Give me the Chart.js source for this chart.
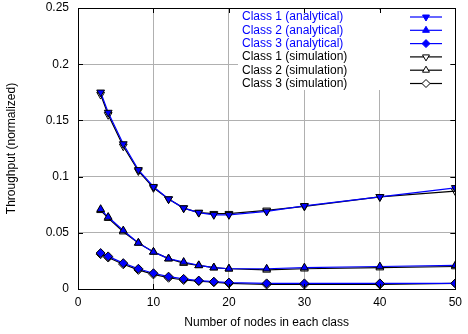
<!DOCTYPE html>
<html>
<head>
<meta charset="utf-8">
<script src="https://cdn.jsdelivr.net/npm/chart.js@4.4.1/dist/chart.umd.min.js"></script>
<style>
  html, body { margin: 0; padding: 0; background: #fff; }
  #wrap { width: 468px; height: 334px; position: relative; }
</style>
</head>
<body>
<div id="wrap"><canvas id="chart" width="468" height="334"></canvas></div>
<script>
// Throughput per class vs. number of nodes (analytical vs simulation)
const nodes = [3, 4, 6, 8, 10, 12, 14, 16, 18, 20, 25, 30, 40, 50];

const class1Analytical = [0.175, 0.157, 0.129, 0.106, 0.091, 0.080, 0.072, 0.068, 0.066, 0.066, 0.069, 0.074, 0.082, 0.090];
const class2Analytical = [0.071, 0.064, 0.052, 0.041, 0.033, 0.027, 0.024, 0.021, 0.019, 0.018, 0.018, 0.019, 0.020, 0.021];
const class3Analytical = [0.032, 0.029, 0.023, 0.018, 0.014, 0.011, 0.009, 0.0075, 0.0065, 0.0057, 0.005, 0.005, 0.005, 0.005];

const class1Simulation = [0.173, 0.155, 0.127, 0.105, 0.090, 0.080, 0.072, 0.068, 0.067, 0.067, 0.070, 0.0735, 0.082, 0.087];
const class2Simulation = [0.070, 0.063, 0.051, 0.041, 0.033, 0.027, 0.023, 0.021, 0.019, 0.018, 0.017, 0.018, 0.019, 0.020];
const class3Simulation = [0.031, 0.028, 0.022, 0.017, 0.013, 0.010, 0.008, 0.007, 0.006, 0.005, 0.004, 0.004, 0.004, 0.005];

const xTicks = [0, 10, 20, 30, 40, 50];
const yTicks = [0, 0.05, 0.1, 0.15, 0.2, 0.25];

const FONT = '"Liberation Sans", Arial, Helvetica, sans-serif';
const BLUE = '#0000ff';

function toPoints(values) {
    return nodes.map((n, i) => ({ x: n, y: values[i] }));
}

// series definitions (legend order)
const series = [
    { label: 'Class 1 (analytical)', data: class1Analytical, color: BLUE, fill: BLUE, style: 'triangle', rotation: 180 },
    { label: 'Class 2 (analytical)', data: class2Analytical, color: BLUE, fill: BLUE, style: 'triangle', rotation: 0 },
    { label: 'Class 3 (analytical)', data: class3Analytical, color: BLUE, fill: BLUE, style: 'rectRot', rotation: 0 },
    { label: 'Class 1 (simulation)', data: class1Simulation, color: '#000', fill: 'rgba(255,255,255,0)', style: 'triangle', rotation: 180 },
    { label: 'Class 2 (simulation)', data: class2Simulation, color: '#000', fill: 'rgba(255,255,255,0)', style: 'triangle', rotation: 0 },
    { label: 'Class 3 (simulation)', data: class3Simulation, color: '#000', fill: 'rgba(255,255,255,0)', style: 'rectRot', rotation: 0 }
];

const datasets = series.map(s => ({
    label: s.label,
    data: toPoints(s.data),
    showLine: true,
    borderColor: s.color,
    borderWidth: 1.2,
    pointStyle: s.style,
    rotation: s.rotation,
    pointRadius: 4.5,
    pointBackgroundColor: s.fill,
    pointBorderColor: '#000',
    pointBorderWidth: 1,
    tension: 0
}));

// white box behind the key, drawn over the grid before the data
const keyBoxPlugin = {
    id: 'keyBox',
    beforeDatasetsDraw(chart) {
        const ctx = chart.ctx;
        ctx.save();
        ctx.fillStyle = '#ffffff';
        ctx.fillRect(238, 10, 218, 80);
        ctx.restore();
    }
};

// frame, inner ticks and the gnuplot-style key
const framePlugin = {
    id: 'frame',
    afterDraw(chart) {
        const ctx = chart.ctx;
        const a = chart.chartArea;
        const xs = chart.scales.x, ys = chart.scales.y;
        ctx.save();

        ctx.strokeStyle = '#000';
        ctx.lineWidth = 1;
        ctx.beginPath();
        xTicks.forEach(v => {
            const px = Math.round(xs.getPixelForValue(v)) + 0.5;
            ctx.moveTo(px, a.bottom); ctx.lineTo(px, a.bottom - 5);
            ctx.moveTo(px, a.top); ctx.lineTo(px, a.top + 5);
        });
        yTicks.forEach(v => {
            const py = Math.round(ys.getPixelForValue(v)) + 0.5;
            ctx.moveTo(a.left, py); ctx.lineTo(a.left + 5, py);
            ctx.moveTo(a.right, py); ctx.lineTo(a.right - 5, py);
        });
        ctx.stroke();
        ctx.strokeRect(Math.round(a.left) + 0.5, Math.round(a.top) + 0.5,
            Math.round(a.right - a.left), Math.round(a.bottom - a.top));

        // key entries
        ctx.font = '12px ' + FONT;
        ctx.textBaseline = 'middle';
        ctx.textAlign = 'left';
        series.forEach((s, i) => {
            const y = 17 + i * 13.3;
            ctx.fillStyle = s.color;
            ctx.fillText(s.label, 242, y);
            ctx.strokeStyle = s.color;
            ctx.lineWidth = 1.2;
            ctx.beginPath();
            ctx.moveTo(410, y); ctx.lineTo(442, y);
            ctx.stroke();
            ctx.fillStyle = s.color === BLUE ? BLUE : '#fff';
            ctx.strokeStyle = s.color === BLUE ? BLUE : '#000';
            ctx.lineWidth = 1;
            Chart.helpers.drawPoint(ctx, { pointStyle: s.style, rotation: s.rotation, radius: 4, borderWidth: 1 }, 426, y);
        });
        ctx.restore();
    }
};

new Chart(document.getElementById('chart'), {
    type: 'scatter',
    data: { datasets },
    options: {
        responsive: false,
        animation: false,
        layout: { padding: { top: 0, right: 9, left: 0, bottom: 0 } },
        plugins: {
            legend: { display: false },
            tooltip: { enabled: false }
        },
        scales: {
            x: {
                type: 'linear',
                min: 0,
                max: 50,
                afterBuildTicks: scale => { scale.ticks = xTicks.map(v => ({ value: v })); },
                afterFit: scale => { scale.height = 45; },
                grid: { color: '#b0b0b0', lineWidth: 1, drawTicks: false },
                border: { display: false },
                ticks: { color: '#000', padding: 6, font: { family: FONT, size: 12 }, maxRotation: 0 },
                title: { display: true, text: 'Number of nodes in each class', color: '#000', padding: { top: 6 }, font: { family: FONT, size: 12 } }
            },
            y: {
                min: 0,
                max: 0.25,
                afterBuildTicks: scale => { scale.ticks = yTicks.map(v => ({ value: v })); },
                afterFit: scale => {
                    scale.width = 78;
                    scale.paddingTop = 8;
                    scale.paddingBottom = 0;
                },
                grid: { color: '#b0b0b0', lineWidth: 1, drawTicks: false },
                border: { display: false },
                ticks: {
                    color: '#000',
                    padding: 9,
                    font: { family: FONT, size: 12 },
                    callback: v => String(Math.round(v * 100) / 100)
                },
                title: { display: true, text: 'Throughput (normalized)', color: '#000', padding: { bottom: 8 }, font: { family: FONT, size: 12 } }
            }
        }
    },
    plugins: [keyBoxPlugin, framePlugin]
});
</script>
</body>
</html>
